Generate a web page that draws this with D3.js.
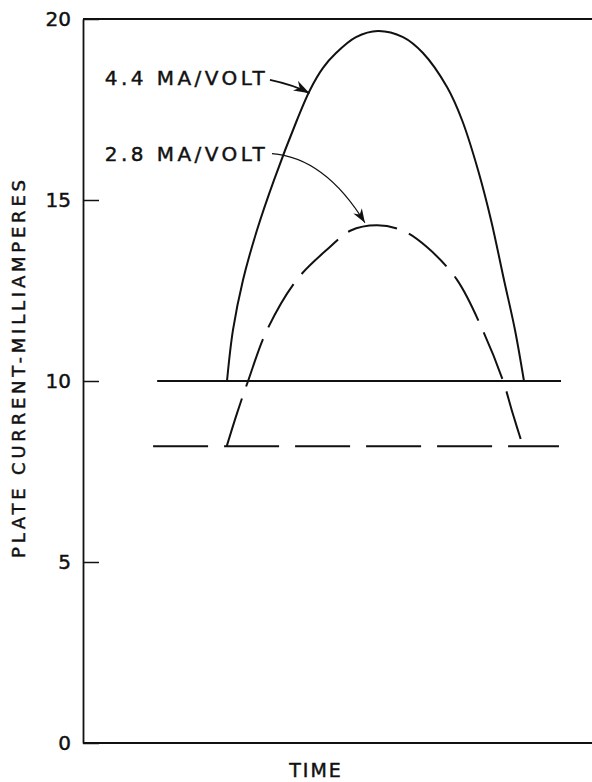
<!DOCTYPE html>
<html>
<head>
<meta charset="utf-8">
<script src="https://cdn.jsdelivr.net/npm/d3@7"></script>
<style>
  body { margin: 0; background: #fff; }
  svg { display: block; }
  text { font-family: "DejaVu Sans", "Liberation Sans", sans-serif; fill: #111; stroke: #111; stroke-width: 0.45px; }
</style>
</head>
<body>
<svg id="chart" width="592" height="782"></svg>
<script>
// ************************************
// Data (time in arbitrary units 0..100, current in mA)
// ************************************

const yTicks = [0, 5, 10, 15, 20];

// steady plate current, full width
const baseSolid = [{t: 14.4, v: 10.0}, {t: 93.9, v: 10.0}];
const baseDashed = [{t: 13.6, v: 8.2}, {t: 93.5, v: 8.2}];

// 4.4 MA/VOLT pulse
const pulseSolid = [
  {t: 28.15, v: 10.0}, {t: 29.33, v: 11.41}, {t: 31.3, v: 12.79}, {t: 34.06, v: 14.17},
  {t: 37.4, v: 15.55}, {t: 41.93, v: 17.21}, {t: 44.49, v: 18.04}, {t: 47.05, v: 18.65},
  {t: 49.61, v: 19.06}, {t: 53.54, v: 19.5}, {t: 57.87, v: 19.67}, {t: 62.8, v: 19.5},
  {t: 66.73, v: 19.06}, {t: 71.46, v: 18.12}, {t: 74.41, v: 17.21}, {t: 77.56, v: 15.83},
  {t: 80.12, v: 14.45}, {t: 82.68, v: 12.79}, {t: 84.84, v: 11.41}, {t: 86.61, v: 10.0}
];

// 2.8 MA/VOLT pulse
const pulseDashed = [
  {t: 28.1, v: 8.2}, {t: 30.1, v: 9.1}, {t: 32.3, v: 10.0}, {t: 36.0, v: 11.4},
  {t: 41.9, v: 12.8}, {t: 48.4, v: 13.7}, {t: 52.4, v: 14.15}, {t: 57.7, v: 14.3},
  {t: 62.8, v: 14.15}, {t: 67.5, v: 13.7}, {t: 73.4, v: 12.8}, {t: 78.5, v: 11.4},
  {t: 82.5, v: 10.0}, {t: 84.4, v: 9.1}, {t: 86.4, v: 8.2}
];

// labels and their curved arrows (start, control, tip)
const labels = [
  {text: "4.4 MA/VOLT", t: 4.1, v: 18.37},
  {text: "2.8 MA/VOLT", t: 4.1, v: 16.28}
];
const arrows = [
  {p0: {t: 36.6, v: 18.32}, c: {t: 41.3, v: 18.18}, p1: {t: 44.4, v: 17.95}, w: 1.7, head: "headBig"},
  {p0: {t: 37.0, v: 16.28}, c: {t: 47.4, v: 16.17}, p1: {t: 55.3, v: 14.37}, w: 1.1, head: "headSmall"}
];

// ************************************
// Scales
// ************************************

const svg = d3.select("#chart");
const plotLeft = 83, plotRight = 592, plotTop = 19, plotBottom = 743;

const x = d3.scaleLinear().domain([0, 100]).range([84, 592]);
const y = d3.scaleLinear().domain([0, 20]).range([plotBottom, plotTop]);

// frame: top and bottom lines
svg.append("line")
  .attr("x1", plotLeft).attr("x2", plotRight)
  .attr("y1", y(20)).attr("y2", y(20))
  .attr("stroke", "#111").attr("stroke-width", 1.8);
svg.append("line")
  .attr("x1", plotLeft).attr("x2", plotRight)
  .attr("y1", y(0)).attr("y2", y(0))
  .attr("stroke", "#111").attr("stroke-width", 1.8);

// y axis with inward ticks
const yAxis = svg.append("g")
  .attr("transform", `translate(${plotLeft},0)`)
  .call(d3.axisLeft(y)
    .tickValues(yTicks)
    .tickSizeInner(-16)
    .tickSizeOuter(0)
    .tickPadding(12)
    .tickFormat(d3.format("d")));

yAxis.select(".domain").attr("stroke", "#111").attr("stroke-width", 1.8);
yAxis.selectAll(".tick line").attr("stroke", "#111").attr("stroke-width", 1.5);
yAxis.selectAll(".tick text")
  .style("font-family", "DejaVu Sans, sans-serif")
  .style("font-size", "20px")
  .attr("fill", "#111");

// axis titles
svg.append("text")
  .attr("transform", `translate(25,${(plotTop + plotBottom) / 2 - 12}) rotate(-90)`)
  .attr("text-anchor", "middle")
  .attr("textLength", 378)
  .attr("lengthAdjust", "spacing")
  .style("font-size", "18px")
  .text("PLATE CURRENT-MILLIAMPERES");

svg.append("text")
  .attr("x", 316).attr("y", 777)
  .attr("text-anchor", "middle")
  .style("font-size", "19px")
  .style("letter-spacing", "2px")
  .text("TIME");

// ************************************
// Curves
// ************************************

const line = d3.line()
  .x(d => x(d.t))
  .y(d => y(d.v))
  .curve(d3.curveCatmullRom.alpha(0.5));

svg.append("path").datum(baseSolid)
  .attr("d", line).attr("fill", "none")
  .attr("stroke", "#111").attr("stroke-width", 2);

svg.append("path").datum(pulseSolid)
  .attr("d", line).attr("fill", "none")
  .attr("stroke", "#111").attr("stroke-width", 2);

svg.append("path").datum(baseDashed)
  .attr("d", line).attr("fill", "none")
  .attr("stroke", "#111").attr("stroke-width", 2)
  .attr("stroke-dasharray", "55,16");

svg.append("path").datum(pulseDashed)
  .attr("d", line).attr("fill", "none")
  .attr("stroke", "#111").attr("stroke-width", 2)
  .attr("stroke-dasharray", "50,13");

// ************************************
// Labels and arrows
// ************************************

const defs = svg.append("defs");
[["headBig", 16, 11], ["headSmall", 14, 10]].forEach(([id, w, h]) => {
  defs.append("marker")
    .attr("id", id)
    .attr("viewBox", `0 0 ${w} ${h}`)
    .attr("refX", w).attr("refY", h / 2)
    .attr("markerUnits", "userSpaceOnUse")
    .attr("markerWidth", w).attr("markerHeight", h)
    .attr("orient", "auto")
    .append("path")
    .attr("d", `M0,0 L${w},${h / 2} L0,${h} L${w * 0.3},${h / 2} Z`)
    .attr("fill", "#111");
});

svg.selectAll(".lbl")
  .data(labels)
  .enter().append("text")
  .attr("class", "lbl")
  .attr("x", d => x(d.t))
  .attr("y", d => y(d.v))
  .attr("dy", "0.36em")
  .attr("textLength", 160)
  .attr("lengthAdjust", "spacing")
  .style("font-size", "20px")
  .text(d => d.text);

svg.selectAll(".arrow")
  .data(arrows)
  .enter().append("path")
  .attr("class", "arrow")
  .attr("d", d => `M${x(d.p0.t)},${y(d.p0.v)} Q${x(d.c.t)},${y(d.c.v)} ${x(d.p1.t)},${y(d.p1.v)}`)
  .attr("fill", "none")
  .attr("stroke", "#111")
  .attr("stroke-width", d => d.w)
  .attr("marker-end", d => `url(#${d.head})`);
</script>
</body>
</html>
